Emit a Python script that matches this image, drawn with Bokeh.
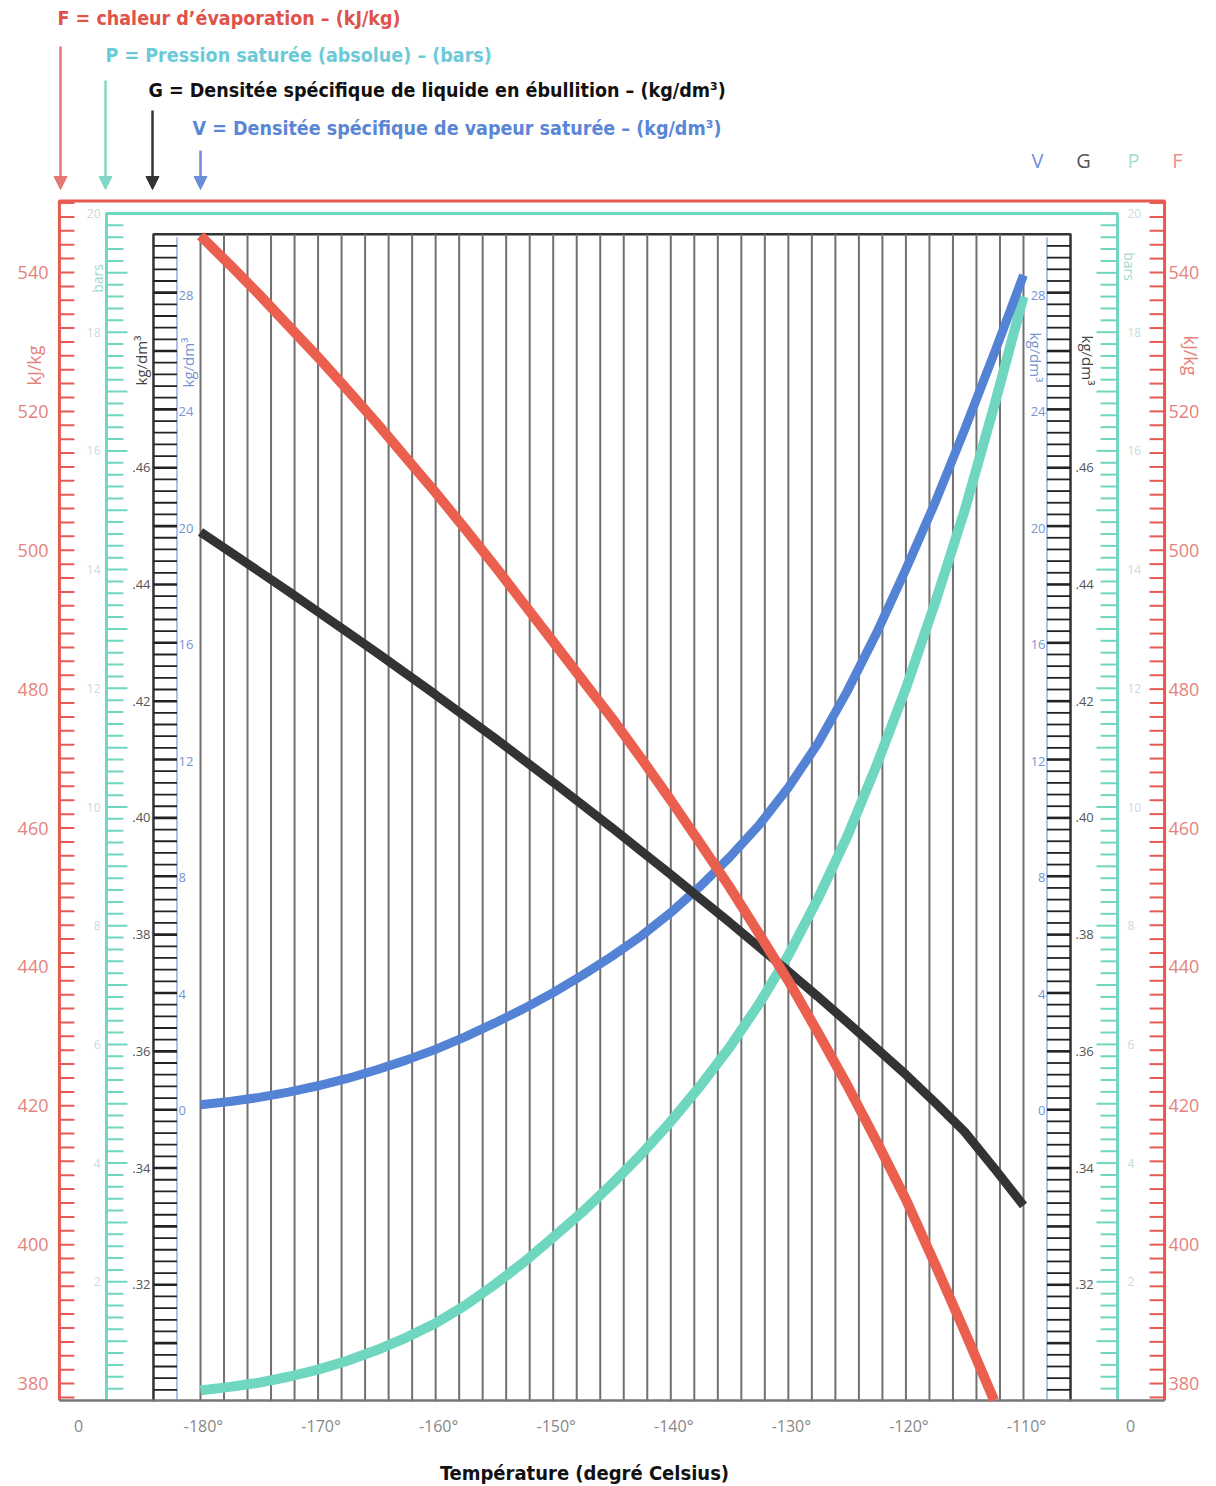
import numpy as np
from bokeh.plotting import figure
from bokeh.models import Range1d, Arrow, NormalHead
from bokeh.core.properties import value
from bokeh.embed import file_html
from bokeh.resources import INLINE

# ---------------- data ----------------
temp = [-180, -177.5, -175, -172.5, -170, -167.5, -165, -162.5, -160, -157.5, -155, -152.5,
        -150, -147.5, -145, -142.5, -140, -137.5, -135, -132.5, -130, -127.5, -125, -122.5,
        -120, -117.5, -115, -112.5, -110]
temp_F = temp[:-1]
F_kjkg = [545.3, 541.1, 536.8, 532.3, 527.8, 523.1, 518.3, 513.3, 508.3, 503.1, 497.8, 492.3,
          486.8, 481.3, 475.8, 470.0, 464.0, 457.8, 451.5, 444.8, 438.0, 430.6, 423.0, 414.9,
          406.5, 397.1, 387.5, 377.6]
P_bar = [0.17, 0.23, 0.30, 0.40, 0.52, 0.67, 0.85, 1.06, 1.30, 1.60, 1.95, 2.33,
         2.75, 3.18, 3.65, 4.15, 4.70, 5.30, 5.95, 6.68, 7.50, 8.45, 9.50, 10.70,
         12.0, 13.45, 15.0, 16.75, 18.6]
G_liq = [0.4490, 0.4456, 0.4422, 0.4388, 0.4353, 0.4318, 0.4283, 0.4247, 0.4211, 0.4174,
         0.4137, 0.4099, 0.4061, 0.4022, 0.3983, 0.3943, 0.3903, 0.3862, 0.3821, 0.3779,
         0.3737, 0.3694, 0.3650, 0.3605, 0.3560, 0.3512, 0.3462, 0.3400, 0.3336]
V_vap = [0.20, 0.31, 0.45, 0.63, 0.85, 1.10, 1.40, 1.73, 2.10, 2.53, 3.00, 3.50,
         4.05, 4.65, 5.30, 6.00, 6.80, 7.70, 8.70, 9.80, 11.1, 12.6, 14.4, 16.4,
         18.6, 20.9, 23.4, 26.0, 28.7]

x_ticks = [-180, -170, -160, -150, -140, -130, -120, -110]
F_labels = [380, 400, 420, 440, 460, 480, 500, 520, 540]
P_labels = [2, 4, 6, 8, 10, 12, 14, 16, 18, 20]
G_labels = [0.32, 0.34, 0.36, 0.38, 0.40, 0.42, 0.44, 0.46]
V_labels = [0, 4, 8, 12, 16, 20, 24, 28]

legend_texts = [
    "F = chaleur d\u2019évaporation \u2013 (kJ/kg)",
    "P = Pression saturée (absolue) \u2013 (bars)",
    "G = Densitée spécifique de liquide en ébullition \u2013 (kg/dm\u00b3)",
    "V = Densitée spécifique de vapeur saturée \u2013 (kg/dm\u00b3)",
]

# ---------------- colours ----------------
RED, TEAL, BLACK, BLUE = "#ea5f4e", "#6fd6c0", "#333333", "#5483d6"
RED_LBL, TEAL_LBL, G_LBL, BLUE_LBL = "#e4837c", "#c9dcd7", "#555555", "#7695d3"

# ---------------- page geometry helpers (layout only) ----------------
W, H = 1216, 1486
PX_PER_DEG = 11.757
PX_PER_KJ = 6.944
def X(px):   # pixel -> temperature
    return -180 + (px - 200) / PX_PER_DEG
def Y(py):   # pixel -> kJ/kg
    return 540 - (py - 272) / PX_PER_KJ

p = figure(width=W, height=H, x_range=Range1d(X(0), X(W)), y_range=Range1d(Y(H), Y(0)),
           output_backend="svg", toolbar_location=None, min_border=0,
           x_axis_type=None, y_axis_type=None)
p.grid.visible = False
p.outline_line_color = None
p.background_fill_color = "white"
p.extra_y_ranges = {
    "P": Range1d((1400 - H) / 59.35, 1400 / 59.35),
    "G": Range1d(0.30 + (1401 - H) / 5836, 0.30 + 1401 / 5836),
    "V": Range1d((1110 - H) / 29.107, 1110 / 29.107),
}

# ---------------- frames ----------------
p.line([-192, -192, -98, -98], [377.55, 550.3, 550.3, 377.55], line_color="#e65a52", line_width=3)
p.line([-188, -188, -102, -102], [0, 20, 20, 0], y_range_name="P", line_color=TEAL, line_width=3)
p.line([-184, -184, -106, -106], [0.30, 0.50, 0.50, 0.30], y_range_name="G", line_color=BLACK, line_width=2.5)
p.segment(x0=[-182, -108], y0=[-10, -10], x1=[-182, -108], y1=[30, 30], y_range_name="V",
          line_color="#93ace6", line_width=1.5)

# vertical grid lines every 2 deg
gx = np.arange(-180, -109, 2)
p.segment(x0=gx, y0=0.30, x1=gx, y1=0.50, y_range_name="G", line_color="#707070", line_width=2)

# red ticks
rt = np.arange(378, 550.1, 2)
tl = 15 / PX_PER_DEG
p.segment(x0=-192, y0=rt, x1=-192 + tl, y1=rt, line_color="#e65a52", line_width=2)
p.segment(x0=-98, y0=rt, x1=-98 - tl, y1=rt, line_color="#e65a52", line_width=2)

# teal ticks
pt = np.round(np.arange(0.2, 19.9, 0.2), 1)
plen = np.where(np.isclose(pt % 1, 0) | np.isclose(pt % 1, 1), 21, 17) / PX_PER_DEG
p.segment(x0=-188, y0=pt, x1=-188 + plen, y1=pt, y_range_name="P", line_color=TEAL, line_width=2)
p.segment(x0=-102, y0=pt, x1=-102 - plen, y1=pt, y_range_name="P", line_color=TEAL, line_width=2)

# black ticks (every fifth a little heavier)
bt = np.round(np.arange(0.302, 0.4981, 0.002), 3)
bw = np.where(np.isclose((bt * 1000) % 10, 0), 2.6, 1.8)
p.segment(x0=-184, y0=bt, x1=-182, y1=bt, y_range_name="G", line_color="#222222", line_width=bw)
p.segment(x0=-106, y0=bt, x1=-108, y1=bt, y_range_name="G", line_color="#222222", line_width=bw)

# bottom line
p.segment(x0=[-192], y0=[0], x1=[-98], y1=[0], y_range_name="P", line_color="#777777", line_width=2.5)

# ---------------- curves ----------------
p.line(temp, P_bar, y_range_name="P", line_color=TEAL, line_width=10)
p.line(temp, V_vap, y_range_name="V", line_color=BLUE, line_width=9)
p.line(temp, G_liq, y_range_name="G", line_color=BLACK, line_width=9)
p.line(temp_F, F_kjkg, line_color=RED, line_width=10)

# ---------------- scale labels ----------------
TF = value("Open Sans")
p.text(x=X(48), y=F_labels, text=[str(v) for v in F_labels], text_font=TF, text_font_size="18px",
       text_color=RED_LBL, text_align="right", text_baseline="middle")
p.text(x=X(1168), y=F_labels, text=[str(v) for v in F_labels], text_font=TF, text_font_size="18px",
       text_color=RED_LBL, text_align="left", text_baseline="middle")
p.text(x=X(100), y=P_labels, text=[str(v) for v in P_labels], y_range_name="P", text_font=TF,
       text_font_size="12px", text_color=TEAL_LBL, text_align="right", text_baseline="middle")
p.text(x=X(1127), y=P_labels, text=[str(v) for v in P_labels], y_range_name="P", text_font=TF,
       text_font_size="12px", text_color=TEAL_LBL, text_align="left", text_baseline="middle")
gtxt = [("%.2f" % v)[1:] for v in G_labels]
p.text(x=X(150), y=G_labels, text=gtxt, y_range_name="G", text_font=TF, text_font_size="13px",
       text_color=G_LBL, text_align="right", text_baseline="middle")
p.text(x=X(1075), y=G_labels, text=gtxt, y_range_name="G", text_font=TF, text_font_size="13px",
       text_color=G_LBL, text_align="left", text_baseline="middle")
p.text(x=X(178), y=V_labels, text=[str(v) for v in V_labels], y_range_name="V", text_font=TF,
       text_font_size="13px", text_color=BLUE_LBL, text_align="left", text_baseline="middle")
p.text(x=X(1045), y=V_labels, text=[str(v) for v in V_labels], y_range_name="V", text_font=TF,
       text_font_size="13px", text_color=BLUE_LBL, text_align="right", text_baseline="middle")

# rotated unit labels
def unit(px, py, txt, color, size, ang):
    p.text(x=[X(px)], y=[Y(py)], text=[txt], angle=ang, text_font=TF, text_font_size=size,
           text_color=color, text_align="center", text_baseline="middle")
unit(33, 365, "kJ/kg", RED_LBL, "18px", np.pi / 2)
unit(1190, 355, "kJ/kg", RED_LBL, "18px", -np.pi / 2)
unit(97, 278, "bars", "#9fd9ce", "14px", np.pi / 2)
unit(1129, 266, "bars", "#9fd9ce", "14px", -np.pi / 2)
unit(140, 360, "kg/dm\u00b3", "#444444", "15px", np.pi / 2)
unit(1087, 360, "kg/dm\u00b3", "#444444", "15px", -np.pi / 2)
unit(187, 362, "kg/dm\u00b3", BLUE_LBL, "15px", np.pi / 2)
unit(1035, 357, "kg/dm\u00b3", BLUE_LBL, "15px", -np.pi / 2)

# x labels
p.text(x=x_ticks, y=Y(1425), text=["%d\u00b0" % v for v in x_ticks], text_font=TF, text_font_size="16px",
       text_color="#888888", text_align="center", text_baseline="middle", x_offset=3)
p.text(x=[X(78), X(1130)], y=Y(1425), text=["0", "0"], text_font=TF, text_font_size="16px",
       text_color="#888888", text_align="center", text_baseline="middle")
NF = value("DejaVu Sans Condensed")
p.text(x=[X(584)], y=[Y(1472)], text=["Température (degré Celsius)"], text_font=NF, text_font_size="20px",
       text_font_style="bold", text_color="#111111", text_align="center", text_baseline="middle")

# top letters
p.text(x=[X(1037), X(1083), X(1133), X(1177)], y=Y(160), text=["V", "G", "P", "F"], text_font=TF,
       text_font_size="20px", text_color=["#6d8fd6", "#555555", "#a8dcd2", "#e8908a"],
       text_align="center", text_baseline="middle")

# legend lines + arrows
leg_x = [57, 105, 148, 192]
leg_y = [18, 55, 90, 128]
leg_c = ["#e0524a", "#6ccad8", "#111111", "#5a86d6"]
p.text(x=[X(v) for v in leg_x], y=[Y(v) for v in leg_y], text=legend_texts, text_font=NF,
       text_font_size="19.5px", text_font_style="bold", text_color=leg_c,
       text_align="left", text_baseline="middle")
arr_x = [60, 105, 152, 200]
arr_y0 = [46, 80, 110, 150]
arr_c = ["#e47870", "#7fd8c6", "#333333", "#6a8fd8"]
for ax, ay, ac in zip(arr_x, arr_y0, arr_c):
    p.add_layout(Arrow(x_start=X(ax), y_start=Y(ay), x_end=X(ax), y_end=Y(189),
                       line_color=ac, line_width=2.5,
                       end=NormalHead(size=13, fill_color=ac, line_color=ac)))

open("out.html", "w").write(file_html(p, INLINE))
